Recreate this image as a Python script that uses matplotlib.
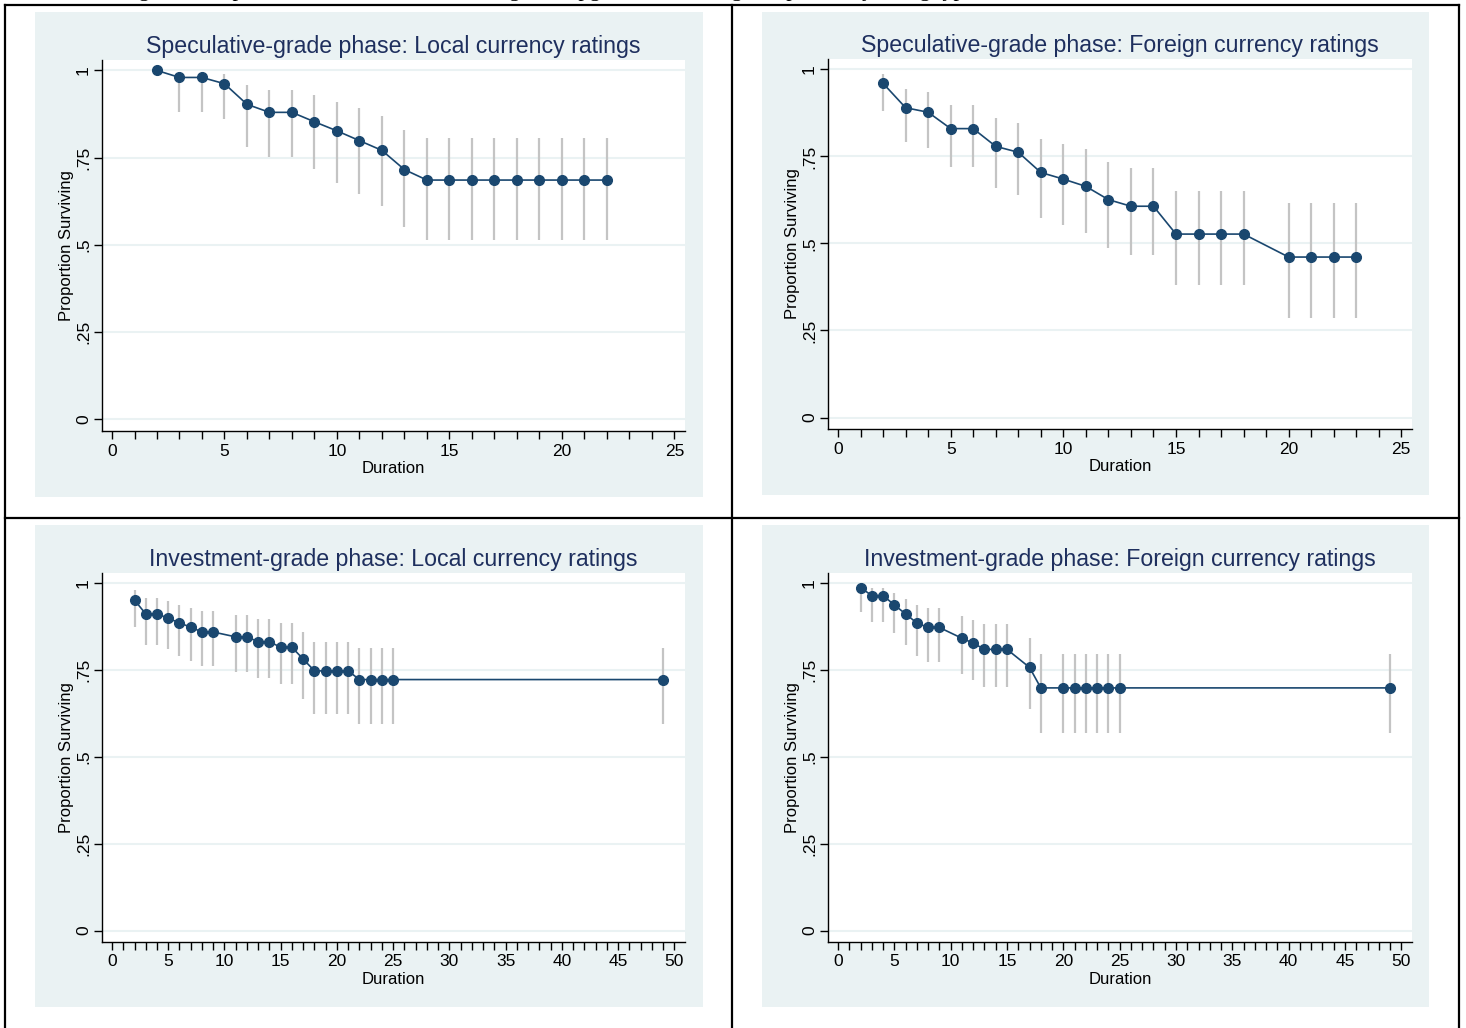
import matplotlib
matplotlib.use("Agg")
import matplotlib.pyplot as plt
from matplotlib.patches import Rectangle
from matplotlib.lines import Line2D
from matplotlib.ticker import MultipleLocator

plt.rcParams['font.family'] = ['Liberation Sans', 'DejaVu Sans']

W, H = 1466, 1028

# --- data ---
# Speculative-grade phase: Local currency ratings
spec_loc_x = [2, 3, 4, 5, 6, 7, 8, 9, 10, 11, 12, 13, 14, 15, 16, 17, 18, 19, 20, 21, 22]
spec_loc_s = [1.0, 0.98, 0.98, 0.962, 0.903, 0.88, 0.88, 0.853, 0.827, 0.799, 0.771, 0.716,
              0.686, 0.686, 0.686, 0.686, 0.686, 0.686, 0.686, 0.686, 0.686]
spec_loc_lo = [1.0, 0.882, 0.882, 0.86, 0.782, 0.751, 0.751, 0.717, 0.679, 0.646, 0.613, 0.551,
               0.515, 0.515, 0.515, 0.515, 0.515, 0.515, 0.515, 0.515, 0.515]
spec_loc_hi = [1.0, 0.995, 0.995, 0.989, 0.958, 0.944, 0.944, 0.929, 0.91, 0.892, 0.87, 0.829,
               0.806, 0.806, 0.806, 0.806, 0.806, 0.806, 0.806, 0.806, 0.806]

# Speculative-grade phase: Foreign currency ratings
spec_for_x = [2, 3, 4, 5, 6, 7, 8, 9, 10, 11, 12, 13, 14, 15, 16, 17, 18, 20, 21, 22, 23]
spec_for_s = [0.96, 0.89, 0.877, 0.83, 0.83, 0.779, 0.762, 0.704, 0.685, 0.664, 0.626, 0.607,
              0.607, 0.527, 0.527, 0.527, 0.527, 0.461, 0.461, 0.461, 0.461]
spec_for_lo = [0.881, 0.791, 0.774, 0.72, 0.72, 0.66, 0.64, 0.573, 0.552, 0.53, 0.488, 0.467,
               0.467, 0.381, 0.381, 0.381, 0.381, 0.287, 0.287, 0.287, 0.287]
spec_for_hi = [0.986, 0.943, 0.934, 0.899, 0.899, 0.86, 0.846, 0.801, 0.785, 0.77, 0.735, 0.718,
               0.718, 0.652, 0.652, 0.652, 0.652, 0.617, 0.617, 0.617, 0.617]

# Investment-grade phase: Local currency ratings
inv_loc_x = [2, 3, 4, 5, 6, 7, 8, 9, 11, 12, 13, 14, 15, 16, 17, 18, 19, 20, 21, 22, 23, 24, 25, 49]
inv_loc_s = [0.952, 0.912, 0.912, 0.9, 0.886, 0.874, 0.86, 0.86, 0.846, 0.846, 0.832, 0.832,
             0.816, 0.816, 0.782, 0.748, 0.748, 0.748, 0.748, 0.723, 0.723, 0.723, 0.723, 0.723]
inv_loc_lo = [0.873, 0.824, 0.824, 0.81, 0.792, 0.777, 0.761, 0.761, 0.744, 0.744, 0.727, 0.727,
              0.709, 0.709, 0.668, 0.625, 0.625, 0.625, 0.625, 0.594, 0.594, 0.594, 0.594, 0.594]
inv_loc_hi = [0.982, 0.958, 0.958, 0.948, 0.938, 0.929, 0.92, 0.92, 0.909, 0.909, 0.898, 0.898,
              0.886, 0.886, 0.861, 0.832, 0.832, 0.832, 0.832, 0.815, 0.815, 0.815, 0.815, 0.815]

# Investment-grade phase: Foreign currency ratings
inv_for_x = [2, 3, 4, 5, 6, 7, 8, 9, 11, 12, 13, 14, 15, 17, 18, 20, 21, 22, 23, 24, 25, 49]
inv_for_s = [0.988, 0.965, 0.965, 0.938, 0.912, 0.886, 0.873, 0.873, 0.842, 0.828, 0.81, 0.81,
             0.81, 0.758, 0.699, 0.699, 0.699, 0.699, 0.699, 0.699, 0.699, 0.699]
inv_for_lo = [0.917, 0.89, 0.89, 0.857, 0.824, 0.79, 0.775, 0.775, 0.739, 0.721, 0.701, 0.701,
              0.701, 0.638, 0.569, 0.569, 0.569, 0.569, 0.569, 0.569, 0.569, 0.569]
inv_for_hi = [0.993, 0.987, 0.987, 0.972, 0.956, 0.938, 0.928, 0.928, 0.907, 0.895, 0.883, 0.883,
              0.883, 0.842, 0.796, 0.796, 0.796, 0.796, 0.796, 0.796, 0.796, 0.796]

titles = ["Speculative-grade phase: Local currency ratings",
          "Speculative-grade phase: Foreign currency ratings",
          "Investment-grade phase: Local currency ratings",
          "Investment-grade phase: Foreign currency ratings"]

BG = '#EAF2F3'
NAVY = '#1A476F'
CI = '#C4C4C4'
TITLE = '#1E2F5E'


def fx(px):
    return px / W


def fy(py):
    return 1 - py / H


fig = plt.figure(figsize=(W / 100, H / 100), dpi=100)
fig.patch.set_facecolor('white')

# panel background boxes (left, top, right, bottom in px)
bg_boxes = [(35, 12, 703, 497), (762, 12, 1429, 495), (35, 525, 703, 1007), (762, 525, 1429, 1007)]
plot_boxes = [(102, 60, 685, 431), (828, 59, 1412, 429), (102, 573, 685, 942), (828, 573, 1412, 942)]
xmax = [25, 25, 50, 50]

for l, t, r, b in bg_boxes:
    fig.patches.append(Rectangle((fx(l), fy(b)), fx(r) - fx(l), fy(t) - fy(b),
                                 transform=fig.transFigure, facecolor=BG, edgecolor='none', zorder=-5))

# table borders
for x0, y0, x1, y1 in [(5, 4.5, 1459, 4.5), (5, 518, 1459, 518), (5, 4.5, 5, 1028),
                       (732, 4.5, 732, 1028), (1459, 4.5, 1459, 1028)]:
    fig.lines.append(Line2D([fx(x0), fx(x1)], [fy(y0), fy(y1)], transform=fig.transFigure,
                            color='black', lw=1.6, zorder=-4))

# caption above the table (cut off by the page edge, as in the source)
fig.text(fx(120), fy(-4), "Figure 3: Kaplan-Meier estimates of the length of upgrade and downgrade phases by rating type",
         family=['Liberation Serif'], fontsize=16, va='baseline', ha='left')

series = [(spec_loc_x, spec_loc_s, spec_loc_lo, spec_loc_hi),
          (spec_for_x, spec_for_s, spec_for_lo, spec_for_hi),
          (inv_loc_x, inv_loc_s, inv_loc_lo, inv_loc_hi),
          (inv_for_x, inv_for_s, inv_for_lo, inv_for_hi)]

for i, (x, s, lo, hi) in enumerate(series):
    l, t, r, b = plot_boxes[i]
    ax = fig.add_axes([fx(l), fy(b), fx(r) - fx(l), fy(t) - fy(b)])
    ax.set_facecolor('white')
    ax.vlines(x, lo, hi, color=CI, lw=1.6, zorder=2)
    ax.plot(x, s, '-o', color=NAVY, lw=1.2, ms=7, zorder=3)

    span = xmax[i]
    ax.set_xlim(-0.0178 * span, span * 1.019)
    ax.set_ylim(-0.033, 1.03)
    ax.xaxis.set_major_locator(MultipleLocator(5))
    ax.xaxis.set_minor_locator(MultipleLocator(1))
    ax.set_yticks([0, 0.25, 0.5, 0.75, 1])
    ax.set_yticklabels(['0', '.25', '.5', '.75', '1'], rotation=90, va='center')
    ax.tick_params(axis='both', which='both', direction='out', length=6, width=1, color='black',
                   labelsize=12.5)
    ax.tick_params(axis='x', which='major', pad=3)
    ax.tick_params(axis='y', which='major', pad=2)

    ax.yaxis.grid(True, color=BG, lw=1.5)
    ax.set_axisbelow(True)
    for sp in ['top', 'right']:
        ax.spines[sp].set_visible(False)
    for sp in ['left', 'bottom']:
        ax.spines[sp].set_color('black')
        ax.spines[sp].set_linewidth(1)

    ax.set_xlabel('Duration', fontsize=12, labelpad=2)
    ax.set_ylabel('Proportion Surviving', fontsize=12, labelpad=1)
    ax.set_title(titles[i], fontsize=16.7, color=TITLE, pad=5)

fig.savefig('out.png', dpi=100, facecolor='white')
